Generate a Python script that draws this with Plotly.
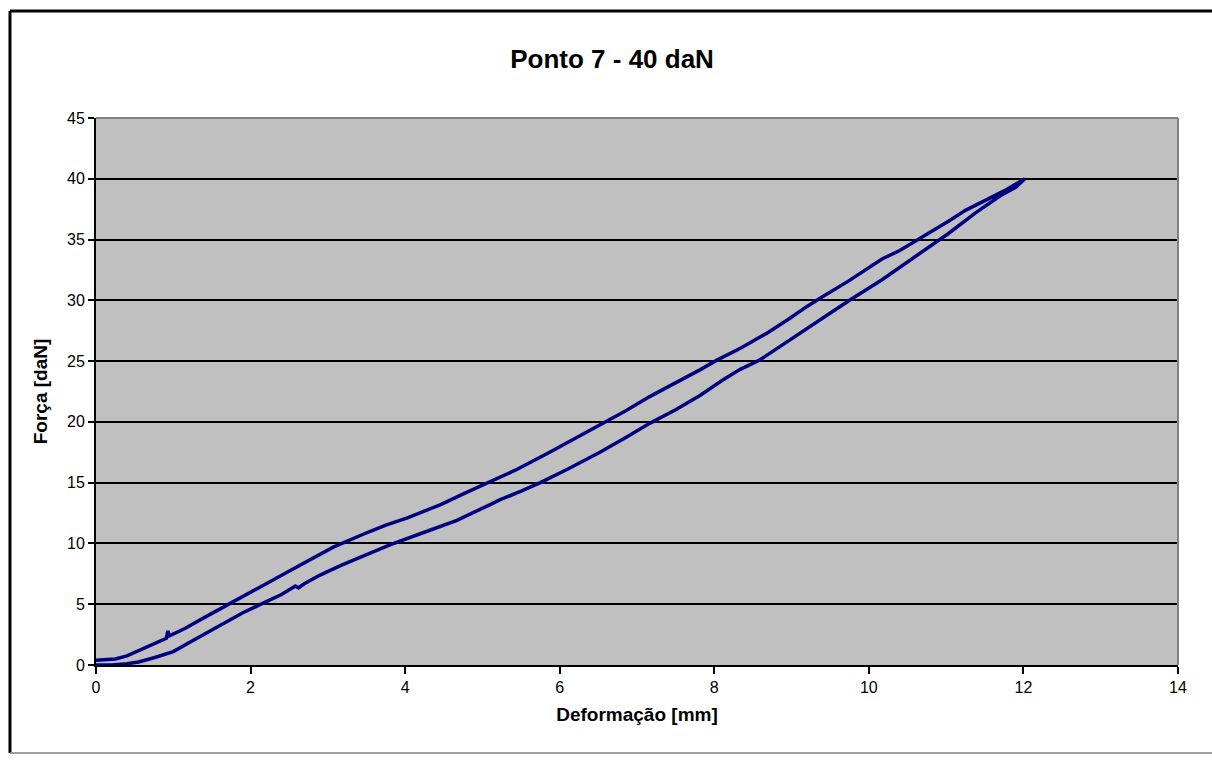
import plotly.graph_objects as go

# Loading branch (lower curve), deformation [mm] and force [daN]
load_x = [0.0, 0.2, 0.4, 0.55, 0.75, 1.0, 1.22, 1.45, 1.66, 1.9, 2.1, 2.4, 2.58, 2.62, 2.7,
          2.9, 3.17, 3.5, 3.81, 4.24, 4.67, 5.1, 5.23, 5.5, 5.75, 6.1, 6.52, 6.85, 7.17,
          7.5, 7.82, 8.1, 8.33, 8.59, 8.85, 9.1, 9.4, 9.75, 10.17, 10.6, 11.03, 11.38,
          11.7, 11.9, 12.02]
load_y = [0.0, 0.0, 0.1, 0.25, 0.6, 1.1, 1.9, 2.7, 3.5, 4.3, 4.9, 5.8, 6.5, 6.35, 6.7,
          7.4, 8.2, 9.1, 9.9, 10.9, 11.9, 13.2, 13.6, 14.3, 15.0, 16.1, 17.5, 18.7, 19.9,
          21.0, 22.2, 23.4, 24.3, 25.1, 26.2, 27.3, 28.6, 30.0, 31.7, 33.6, 35.5, 37.2,
          38.6, 39.3, 40.0]

# Unloading branch (upper curve)
unload_x = [12.02, 11.75, 11.46, 11.25, 11.03, 10.8, 10.6, 10.4, 10.17, 9.95, 9.74, 9.4,
            9.2, 8.95, 8.68, 8.35, 8.04, 7.82, 7.5, 7.17, 6.85, 6.56, 6.2, 5.87, 5.45,
            5.06, 4.76, 4.46, 4.03, 3.75, 3.51, 3.07, 2.8, 2.52, 2.09, 1.85, 1.66, 1.4,
            1.15, 0.95, 0.93, 0.91, 0.7, 0.5, 0.4, 0.25, 0.1, 0.0]
unload_y = [40.0, 39.0, 38.1, 37.4, 36.5, 35.6, 34.8, 34.1, 33.4, 32.5, 31.6, 30.3,
            29.5, 28.4, 27.3, 26.1, 25.1, 24.3, 23.2, 22.1, 20.9, 19.9, 18.6, 17.5, 16.1,
            15.0, 14.1, 13.2, 12.1, 11.5, 10.9, 9.7, 8.8, 7.8, 6.3, 5.5, 4.8, 3.9,
            3.0, 2.4, 2.8, 2.2, 1.6, 1.0, 0.75, 0.5, 0.4, 0.4]

title_text = "Ponto 7 - 40 daN"
x_title = "Deformação [mm]"
y_title = "Força [daN]"

FONT = "Liberation Sans, Arial, sans-serif"

fig = go.Figure()
fig.add_trace(go.Scatter(
    x=load_x + unload_x,
    y=load_y + unload_y,
    mode="lines",
    line=dict(color="#000080", width=3.5),
    showlegend=False,
    hoverinfo="x+y",
))

fig.update_layout(
    width=1212, height=761,
    margin=dict(l=96, r=34, t=118, b=96),
    paper_bgcolor="white",
    plot_bgcolor="#C0C0C0",
    title=dict(text="<b>" + title_text + "</b>", x=0.505, xref="container",
               y=0.922, yref="container", yanchor="middle",
               font=dict(family=FONT, size=26, color="black")),
    font=dict(family=FONT, color="black"),
    xaxis=dict(
        range=[0, 14], tick0=0, dtick=2, showgrid=False, zeroline=False,
        showline=True, linecolor="black", linewidth=2,
        ticks="outside", ticklen=7, tickwidth=2, tickcolor="black",
        tickfont=dict(family=FONT, size=16, color="black"),
        title=dict(text="<b>" + x_title + "</b>", font=dict(family=FONT, size=19, color="black"),
                   standoff=12),
    ),
    yaxis=dict(
        range=[0, 45], tick0=0, dtick=5, showgrid=True, gridcolor="black", gridwidth=1.5,
        zeroline=False, showline=True, linecolor="black", linewidth=2,
        ticks="outside", ticklen=6, tickwidth=2, tickcolor="black",
        tickfont=dict(family=FONT, size=16, color="black"),
        title=dict(text="<b>" + y_title + "</b>", font=dict(family=FONT, size=19, color="black"),
                   standoff=14),
    ),
    shapes=[
        # grey border on top and right of plot area
        dict(type="line", xref="paper", yref="paper", x0=0, x1=1, y0=1, y1=1,
             line=dict(color="#808080", width=2)),
        dict(type="line", xref="paper", yref="paper", x0=1, x1=1, y0=0, y1=1,
             line=dict(color="#808080", width=2)),
        # outer chart frame
        dict(type="line", xref="paper", yref="paper", x0=-0.0795, x1=1.05, y0=1.1956, y1=1.1956,
             line=dict(color="black", width=3)),
        dict(type="line", xref="paper", yref="paper", x0=-0.0795, x1=-0.0795, y0=-0.161, y1=1.1956,
             line=dict(color="black", width=3)),
        dict(type="line", xref="paper", yref="paper", x0=-0.0795, x1=1.05, y0=-0.161, y1=-0.161,
             line=dict(color="#808080", width=1.5)),
    ],
)

fig.write_html("out.html")
